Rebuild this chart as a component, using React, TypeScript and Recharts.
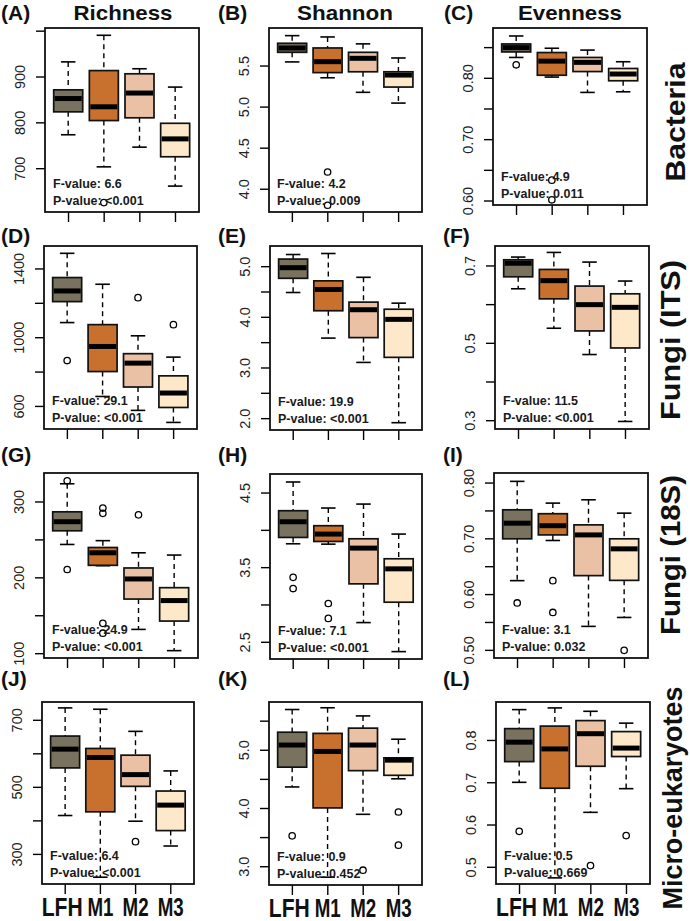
import React from "react";
import { ComposedChart, Bar, XAxis, YAxis } from "recharts";

const groups = ["LFH", "M1", "M2", "M3"];

// five-number summaries per group: [lower whisker, Q1, median, Q3, upper whisker]
const bacRich = [[774, 824, 853, 872, 933], [704, 805, 835, 914, 991], [747, 811, 865, 907, 918], [662, 726, 765, 799, 878]];
const bacRichOut = [[], [626], [], []];
const bacShan = [[5.55, 5.667, 5.72, 5.777, 5.87], [5.357, 5.42, 5.553, 5.72, 5.854], [5.18, 5.43, 5.594, 5.667, 5.77], [5.049, 5.244, 5.39, 5.43, 5.598]];
const bacShanOut = [[], [4.21, 3.805], [], []];
const bacEven = [[0.834, 0.843, 0.85, 0.856, 0.869], [0.802, 0.805, 0.828, 0.842, 0.849], [0.777, 0.811, 0.826, 0.834, 0.846], [0.778, 0.796, 0.807, 0.816, 0.827]];
const bacEvenOut = [[0.822], [0.634, 0.602], [], []];

const itsRich = [[1088, 1210, 1272, 1350, 1491], [658, 803, 949, 1076, 1311], [577, 713, 852, 907, 1011], [507, 594, 678, 778, 887]];
const itsRichOut = [[867], [], [1233], [1076]];
const itsShan = [[4.49, 4.77, 4.98, 5.15, 5.24], [3.59, 4.13, 4.55, 4.72, 5.26], [3.11, 3.6, 4.15, 4.3, 4.79], [1.92, 3.21, 3.96, 4.16, 4.28]];
const itsShanOut = [[], [], [], []];
const itsEven = [[0.641, 0.672, 0.707, 0.716, 0.723], [0.539, 0.615, 0.662, 0.691, 0.735], [0.471, 0.532, 0.6, 0.648, 0.71], [0.298, 0.488, 0.593, 0.628, 0.661]];
const itsEvenOut = [[], [], [], []];

const s18Rich = [[244, 262, 274, 287, 324], [216, 216.5, 233, 240, 249], [132, 172, 198.5, 213, 233], [104, 143, 170, 187, 230]];
const s18RichOut = [[328, 211], [292, 285, 140, 127], [283], []];
const s18Shan = [[3.82, 3.905, 4.115, 4.263, 4.648], [3.815, 3.851, 3.95, 4.062, 4.299], [2.764, 3.283, 3.762, 3.887, 4.352], [2.375, 3.037, 3.484, 3.619, 3.95]];
const s18ShanOut = [[3.37, 3.22], [3.02, 2.82], [], []];
const s18Even = [[0.625, 0.7, 0.728, 0.752, 0.803], [0.697, 0.707, 0.7235, 0.745, 0.764], [0.543, 0.634, 0.707, 0.725, 0.77], [0.559, 0.6255, 0.682, 0.7, 0.746]];
const s18EvenOut = [[0.585], [0.625, 0.568], [], [0.5]];

const microRich = [[416, 558, 614, 653, 737], [232, 427, 589, 616, 733], [399, 503, 538, 596, 667], [325, 371, 447, 489, 549]];
const microRichOut = [[], [], [338], []];
const microShan = [[4.37, 4.71, 5.09, 5.31, 5.7], [2.82, 4.01, 4.98, 5.29, 5.73], [3.9, 4.65, 5.09, 5.38, 5.59], [4.51, 4.57, 4.83, 4.87, 5.19]];
const microShanOut = [[3.53], [], [2.94], [3.94, 3.37]];
const microEven = [[0.701, 0.75, 0.796, 0.828, 0.873], [0.475, 0.687, 0.78, 0.834, 0.877], [0.63, 0.739, 0.816, 0.847, 0.869], [0.686, 0.762, 0.782, 0.821, 0.841]];
const microEvenOut = [[0.585], [], [0.504], [0.575]];

const fValues = ["6.6", "4.2", "4.9", "29.1", "19.9", "11.5", "24.9", "7.1", "3.1", "6.4", "0.9", "0.5"];
const pValues = ["<0.001", "0.009", "0.011", "<0.001", "<0.001", "<0.001", "<0.001", "<0.001", "0.032", "<0.001", "0.452", "0.669"];
const metricTitles = ["Richness", "Shannon", "Evenness"];
const communityLabels = ["Bacteria", "Fungi (ITS)", "Fungi (18S)", "Micro-eukaryotes"];
const panelLetters = ["(A)", "(B)", "(C)", "(D)", "(E)", "(F)", "(G)", "(H)", "(I)", "(J)", "(K)", "(L)"];

const yTicks = [
  [700, 800, 900, 1000], [4.0, 4.5, 5.0, 5.5], [0.6, 0.65, 0.7, 0.75, 0.8, 0.85],
  [600, 800, 1000, 1200, 1400], [2.0, 2.5, 3.0, 3.5, 4.0, 4.5, 5.0], [0.3, 0.4, 0.5, 0.6, 0.7],
  [100, 150, 200, 250, 300], [2.5, 3.0, 3.5, 4.0, 4.5], [0.5, 0.55, 0.6, 0.65, 0.7, 0.75, 0.8],
  [300, 400, 500, 600, 700], [3.0, 3.5, 4.0, 4.5, 5.0, 5.5], [0.5, 0.6, 0.7, 0.8],
];
const yTickLabels = [
  ["700", "800", "900", ""], ["4.0", "4.5", "5.0", "5.5"], ["0.60", "", "0.70", "", "0.80", ""],
  ["600", "", "1000", "", "1400"], ["2.0", "", "3.0", "", "4.0", "", "5.0"], ["0.3", "", "0.5", "", "0.7"],
  ["100", "", "200", "", "300"], ["2.5", "", "3.5", "", "4.5"], ["0.50", "", "0.60", "", "0.70", "", "0.80"],
  ["300", "", "500", "", "700"], ["3.0", "", "4.0", "", "5.0", ""], ["0.5", "0.6", "0.7", "0.8"],
];
const yDomains = [
  [605.5, 1006.9], [3.723, 5.963], [0.5935, 0.882],
  [468.7, 1533.6], [1.776, 5.408], [0.2785, 0.7516],
  [94.3, 338.2], [2.276, 4.755], [0.4863, 0.818],
  [211.7, 754.6], [2.686, 5.829], [0.4605, 0.891],
];

const STATS = [bacRich, bacShan, bacEven, itsRich, itsShan, itsEven, s18Rich, s18Shan, s18Even, microRich, microShan, microEven];
const OUTS = [bacRichOut, bacShanOut, bacEvenOut, itsRichOut, itsShanOut, itsEvenOut, s18RichOut, s18ShanOut, s18EvenOut, microRichOut, microShanOut, microEvenOut];

// ---- layout / style ----
const BOXES = [
  { x: 45, y: 28, w: 154, h: 184 }, { x: 269, y: 28, w: 153, h: 184 }, { x: 493, y: 28, w: 154, h: 177 },
  { x: 44, y: 246, w: 153, h: 183 }, { x: 270, y: 246, w: 152, h: 184 }, { x: 495, y: 246, w: 154, h: 183 },
  { x: 44, y: 473, w: 154, h: 185 }, { x: 270, y: 474, w: 152, h: 185 }, { x: 494, y: 473, w: 154, h: 185 },
  { x: 42, y: 702, w: 152, h: 182 }, { x: 269, y: 702, w: 153, h: 183 }, { x: 496, y: 702, w: 154, h: 182 },
];
const COLORS = ["#79725f", "#c8712f", "#eac1a5", "#fde9c9"];
const FONT = "'Liberation Sans', Arial, Helvetica, sans-serif";
const YW = 40;
const MT = 16;
const MR = 2;

const BoxShape = (props: any) => {
  const { x, y, width, height, payload, index } = props;
  const [lo, q1, med, q3, hi] = payload.s;
  const top = Math.min(y, y + height);
  const bot = Math.max(y, y + height);
  const py = (v: number) => top + ((hi - v) / (hi - lo)) * (bot - top);
  const cx = x + width / 2;
  const cap = width / 4;
  return (
    <g>
      <line x1={cx} x2={cx} y1={py(hi)} y2={py(q3)} stroke="#000" strokeWidth={1.4} strokeDasharray="5 4" />
      <line x1={cx} x2={cx} y1={py(q1)} y2={py(lo)} stroke="#000" strokeWidth={1.4} strokeDasharray="5 4" />
      <line x1={cx - cap} x2={cx + cap} y1={py(hi)} y2={py(hi)} stroke="#000" strokeWidth={1.6} />
      <line x1={cx - cap} x2={cx + cap} y1={py(lo)} y2={py(lo)} stroke="#000" strokeWidth={1.6} />
      <rect x={x} y={py(q3)} width={width} height={py(q1) - py(q3)} fill={COLORS[index]} stroke="#111" strokeWidth={1.7} />
      <line x1={x + 1} x2={x + width - 1} y1={py(med)} y2={py(med)} stroke="#000" strokeWidth={5} />
      {payload.o.map((v: number, k: number) => (
        <circle key={k} cx={cx} cy={py(v)} r={3.2} fill="none" stroke="#000" strokeWidth={1.3} />
      ))}
    </g>
  );
};

const EmptyTick = () => <g />;

const XLabelTick = (props: any) => {
  const { x, y, payload } = props;
  const isLong = payload.value === "LFH";
  return (
    <text x={isLong ? x - 3 : x} y={y + 20} textAnchor="middle" fontFamily={FONT} fontWeight="bold" fontSize={25} fill="#111" textLength={isLong ? 41 : 26} lengthAdjust="spacingAndGlyphs">
      {payload.value}
    </text>
  );
};

function Panel({ idx }: { idx: number }) {
  const b = BOXES[idx];
  const row = Math.floor(idx / 3);
  const XH = row === 3 ? 36 : 14;
  const pad = b.w * 0.037;
  const data = groups.map((g, i) => ({
    g,
    range: [STATS[idx][i][0], STATS[idx][i][4]],
    s: STATS[idx][i],
    o: OUTS[idx][i],
  }));
  const labels = yTickLabels[idx];
  const renderYTick = (p: any) => {
    const lab = labels[p.index] ?? "";
    const tx = p.x - 9;
    return (
      <text x={tx} y={p.y} transform={`rotate(-90 ${tx} ${p.y})`} textAnchor="middle" fontFamily={FONT} fontSize={14.5} fill="#222">
        {lab}
      </text>
    );
  };
  return (
    <div style={{ position: "absolute", left: b.x - YW, top: b.y - MT }}>
      <ComposedChart width={YW + b.w + MR} height={MT + b.h + XH} data={data} margin={{ top: MT, right: MR, bottom: 0, left: 0 }}>
        <XAxis
          dataKey="g"
          type="category"
          interval={0}
          padding={{ left: pad, right: pad }}
          axisLine={false}
          tickSize={10}
          tickLine={{ stroke: "#000", strokeWidth: 1.4 }}
          height={XH}
          tick={row === 3 ? <XLabelTick /> : <EmptyTick />}
        />
        <YAxis
          type="number"
          domain={yDomains[idx]}
          ticks={yTicks[idx]}
          allowDataOverflow
          interval={0}
          axisLine={false}
          tickSize={9}
          tickLine={{ stroke: "#000", strokeWidth: 1.4 }}
          width={YW}
          tick={renderYTick}
        />
        <Bar dataKey="range" barSize={29} shape={BoxShape} isAnimationActive={false} />
      </ComposedChart>
    </div>
  );
}

const letterPos = [
  { x: 1, y: 20 }, { x: 218, y: 20 }, { x: 444, y: 20 },
  { x: 1, y: 243 }, { x: 218, y: 243 }, { x: 443, y: 243 },
  { x: 1, y: 462 }, { x: 218, y: 462 }, { x: 443, y: 462 },
  { x: 1, y: 686 }, { x: 218, y: 686 }, { x: 443, y: 686 },
];
const titleX = [123, 345, 570];
const titleLen = [99, 96, 104];
const sideLabelPos = [
  { x: 685, y: 122, len: 119 }, { x: 680, y: 340, len: 160 }, { x: 680, y: 555, len: 160 }, { x: 682, y: 798, len: 223 },
];

export default function App() {
  return (
    <div style={{ position: "absolute", left: 0, top: 0, width: 690, height: 921, background: "#fff", overflow: "hidden" }}>
      {BOXES.map((_, i) => (
        <Panel key={i} idx={i} />
      ))}
      <svg width={690} height={921} style={{ position: "absolute", left: 0, top: 0, pointerEvents: "none" }}>
        {BOXES.map((b, i) => (
          <rect key={"f" + i} x={b.x} y={b.y} width={b.w} height={b.h} fill="none" stroke="#111" strokeWidth={1.8} />
        ))}
        {BOXES.map((b, i) => (
          <g key={"t" + i} fontFamily={FONT} fontSize={12.5} fontWeight="bold" fill="#1a1a1a">
            <text x={b.x + 8} y={b.y + b.h - 24}>{`F-value: ${fValues[i]}`}</text>
            <text x={b.x + 8} y={b.y + b.h - 7}>{`P-value: ${pValues[i]}`}</text>
          </g>
        ))}
        {metricTitles.map((t, i) => (
          <text key={t} x={titleX[i]} y={20} textAnchor="middle" fontFamily={FONT} fontWeight="bold" fontSize={20.5} fill="#111" textLength={titleLen[i]} lengthAdjust="spacingAndGlyphs">
            {t}
          </text>
        ))}
        {panelLetters.map((t, i) => (
          <text key={t} x={letterPos[i].x} y={letterPos[i].y} fontFamily={FONT} fontWeight="bold" fontSize={21} fill="#111">
            {t}
          </text>
        ))}
        {communityLabels.map((t, i) => {
          const p = sideLabelPos[i];
          return (
            <text key={t} x={p.x} y={p.y} transform={`rotate(-90 ${p.x} ${p.y})`} textAnchor="middle" fontFamily={FONT} fontWeight="bold" fontSize={28} fill="#111" textLength={p.len} lengthAdjust="spacingAndGlyphs">
              {t}
            </text>
          );
        })}
      </svg>
    </div>
  );
}
